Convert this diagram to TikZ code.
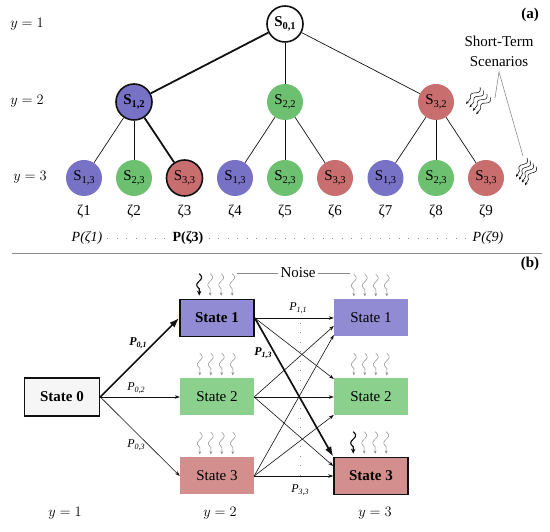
\documentclass[tikz,border=0pt]{standalone}
\usepackage{fontspec}
\setmainfont{Liberation Serif}
\usetikzlibrary{arrows.meta,calc}
\definecolor{ink}{HTML}{111111}
\definecolor{pPur}{HTML}{7872C6}
\definecolor{pGrn}{HTML}{6CC070}
\definecolor{pRed}{HTML}{C86E6E}
\definecolor{bPur}{HTML}{908BD3}
\definecolor{bGrn}{HTML}{8CD08E}
\definecolor{bRed}{HTML}{D38E8E}
\definecolor{zero}{HTML}{F6F6F6}
\definecolor{quiet}{HTML}{8A8A8A}
\newcommand{\bigtext}{\fontsize{15}{19}\selectfont}
\newcommand{\lowsub}[1]{\raisebox{-0.22em}{\fontsize{10.5}{11}\selectfont #1}}
\newcommand{\sname}[1]{S\lowsub{#1}}
\newcommand{\trans}[1]{\textit{P}\raisebox{-2pt}{\fontsize{8}{9}\selectfont\textit{#1}}}
\tikzset{>=Stealth,
  sc/.style={circle,minimum size=36pt,inner sep=0pt,font=\bigtext},
  on/.style={draw=ink,line width=1.6pt},
  branch/.style={draw=ink,line width=0.7pt},
  hot/.style={draw=ink,line width=1.8pt},
  statebox/.style={rectangle,minimum width=74pt,minimum height=37pt,inner sep=0pt,font=\bigtext},
  link/.style={draw=ink,line width=0.6pt,-{Stealth[length=5pt,width=3.5pt]}},
  mainlink/.style={draw=ink,line width=1.7pt,-{Latex[length=10pt,width=7pt]}},
  dots/.style={draw=quiet,line width=0.9pt,dash pattern=on 0.9pt off 8.6pt},
  thinline/.style={draw=quiet,line width=0.6pt},
  ttl/.style={font=\bigtext,inner sep=2pt},
  plab/.style={font=\fontsize{14}{16}\selectfont,inner sep=1pt},
  tlab/.style={font=\fontsize{12}{14}\selectfont,inner sep=1pt},
  softnoise/.style={color=quiet,line width=0.5pt,-{Stealth[length=3pt,width=2.6pt]}},
  hardnoise/.style={color=ink,line width=1.2pt,-{Stealth[length=5pt,width=4.5pt]}},
  scenwave/.style={color=ink,line width=0.55pt,-{Stealth[length=3pt,width=2.6pt]}},
  wave/.pic={\draw plot[domain=0:15,samples=25,smooth] ({2.4*sin(\x*24)},{22-\x}) -- (0,0);}}
\begin{document}
\begin{tikzpicture}[x=1pt,y=1pt]
  \useasboundingbox (0,0) rectangle (550,532);
  % (a) scenario tree
  \node[ttl] (ya1) at (27,508) {$y = 1$};
  \node[ttl] (ya2) at (27,431) {$y = 2$};
  \node[ttl] (ya3) at (30,355) {$y = 3$};
  \node[ttl] (ta) at (530,517) {\textbf{(a)}};
  \node[sc,on,fill=white] (s01) at (285,508) {\textbf{\sname{0,1}}};
  \node[sc,on,fill=pPur] (s12) at (134,430) {\textbf{\sname{1,2}}};
  \node[sc,fill=pGrn] (s22) at (285,430) {\sname{2,2}};
  \node[sc,fill=pRed] (s32) at (436,430) {\sname{3,2}};
  \node[sc,fill=pPur] (l1) at (84,354) {\sname{1,3}};
  \node[sc,fill=pGrn] (l2) at (134,354) {\sname{2,3}};
  \node[sc,on,fill=pRed] (l3) at (184.5,354) {\sname{3,3}};
  \node[sc,fill=pPur] (l4) at (235,354) {\sname{1,3}};
  \node[sc,fill=pGrn] (l5) at (285,354) {\sname{2,3}};
  \node[sc,fill=pRed] (l6) at (335,354) {\sname{3,3}};
  \node[sc,fill=pPur] (l7) at (385.5,354) {\sname{1,3}};
  \node[sc,fill=pGrn] (l8) at (436,354) {\sname{2,3}};
  \node[sc,fill=pRed] (l9) at (486,354) {\sname{3,3}};
  \draw[hot] (s01) -- (s12);
  \draw[branch] (s01) -- (s22);
  \draw[branch] (s01) -- (s32);
  \draw[branch] (s12) -- (l1);
  \draw[branch] (s12) -- (l2);
  \draw[hot] (s12) -- (l3);
  \draw[branch] (s22) -- (l4);
  \draw[branch] (s22) -- (l5);
  \draw[branch] (s22) -- (l6);
  \draw[branch] (s32) -- (l7);
  \draw[branch] (s32) -- (l8);
  \draw[branch] (s32) -- (l9);
  \foreach \i in {1,...,9}
    \node[ttl] (z\i) at ($(l\i)+(0,-34)$) {ζ\i};
  \node[plab] (p1) at (87,294) {\textit{P(ζ1)}};
  \node[plab] (p3) at (188,294) {\textbf{P(ζ3)}};
  \node[plab] (p9) at (488,294) {\textit{P(ζ9)}};
  \draw[dots] ($(p1.east)+(4,0)$) -- ($(p3.west)+(-2,0)$);
  \draw[dots] ($(p3.east)+(4,0)$) -- ($(p9.west)+(-2,0)$);
  % short-term scenarios
  \node[ttl,align=center,font=\fontsize{15}{20}\selectfont] (sts) at (499,481) {Short-Term\\Scenarios};
  \coordinate (apex) at (499,460);
  \coordinate (legA) at (495,434);
  \coordinate (legB) at (523,376);
  \draw[thinline] (legA) -- (apex) -- (legB);
  \foreach \k in {0,...,3}
    \pic[scenwave,rotate=-40] at ({466+3.4*\k},{428-3.4*\k}) {wave};
  \foreach \k in {0,...,3}
    \pic[scenwave,rotate=-30] at ({516+3*\k},{355-2.8*\k}) {wave};
  \draw[draw=quiet,line width=0.9pt] (12,279) -- (542,279);
  % (b) state transitions
  \node[ttl] (tb) at (530,268) {\textbf{(b)}};
  \node[statebox,on,fill=zero,minimum width=75pt,minimum height=38pt] (a0) at (62,135) {\textbf{State 0}};
  \node[statebox,on,fill=bPur] (b1) at (217,214) {\textbf{State 1}};
  \node[statebox,fill=bGrn] (b2) at (217,135) {State 2};
  \node[statebox,fill=bRed] (b3) at (217,56) {State 3};
  \node[statebox,fill=bPur] (c1) at (371,214) {State 1};
  \node[statebox,fill=bGrn] (c2) at (371,135) {State 2};
  \node[statebox,on,fill=bRed] (c3) at (371,56) {\textbf{State 3}};
  \node[ttl] (yb1) at (65,19) {$y = 1$};
  \node[ttl] (yb2) at (220,19) {$y = 2$};
  \node[ttl] (yb3) at (375,19) {$y = 3$};
  % noise
  \foreach \b in {b2,b3,c1,c2}
    \foreach \k in {0,...,3}
      \pic[softnoise] at ($(\b.north west)+(20+11*\k,3)$) {wave};
  \foreach \b in {b1,c3} {
    \pic[hardnoise] at ($(\b.north west)+(20,3)$) {wave};
    \foreach \k in {1,2,3}
      \pic[softnoise] at ($(\b.north west)+(20+11*\k,3)$) {wave};
  }
  \node[ttl] (nz) at (298,259) {Noise};
  \coordinate (nzL) at (237,259);
  \coordinate (nzR) at (350,259);
  \draw[thinline] (nz) -- (nzL);
  \draw[thinline] (nz) -- (nzR);
  % transitions
  \draw[mainlink] (a0.east) -- (b1.west);
  \draw[link] (a0.east) -- (b2.west);
  \draw[link] (a0.east) -- (b3.west);
  \coordinate (dTop) at (300,209);
  \coordinate (dBot) at (300,52);
  \draw[dots] (dTop) -- (dBot);
  \draw[link] (b1.east) -- (c1.west);
  \draw[link] (b1.east) -- ($(c2.west)+(0,18)$);
  \draw[link] (b2.east) -- ($(c1.west)+(0,-8)$);
  \draw[link] (b2.east) -- (c2.west);
  \draw[link] (b2.east) -- ($(c3.west)+(0,10)$);
  \draw[link] (b3.east) -- ($(c1.west)+(0,-17)$);
  \draw[link] (b3.east) -- ($(c2.west)+(0,-18)$);
  \draw[link] (b3.east) -- (c3.west);
  \draw[mainlink] (b1.east) -- (c3.north west);
  \node[tlab] (t01) at (138,189) {\textbf{\trans{0,1}}};
  \node[tlab] (t02) at (136,144) {\trans{0,2}};
  \node[tlab] (t03) at (136,87) {\trans{0,3}};
  \node[tlab] (t11) at (298,224) {\trans{1,1}};
  \node[tlab] (t13) at (263,179) {\textbf{\trans{1,3}}};
  \node[tlab] (t33) at (300,42) {\trans{3,3}};
\end{tikzpicture}
\end{document}
